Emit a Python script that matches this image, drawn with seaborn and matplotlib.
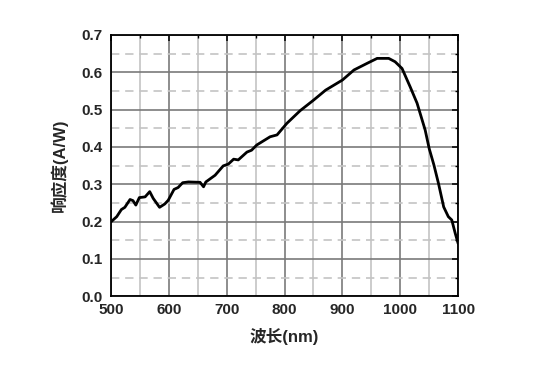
import numpy as np
import pandas as pd
import matplotlib
matplotlib.use('Agg')
import matplotlib.pyplot as plt
import seaborn as sns
from matplotlib.ticker import MultipleLocator

wavelength = [500, 510, 518, 524, 533, 538, 543, 549, 559, 567, 573, 584, 593, 599,
              609, 616, 624, 634, 654, 660, 664, 680, 694, 703, 712, 720, 735, 743,
              752, 775, 787, 804, 827, 850, 871, 900, 920, 943, 960, 980, 991, 1003,
              1017, 1029, 1043, 1050, 1058, 1066, 1075, 1083, 1089, 1095, 1100]
response = [0.199, 0.213, 0.232, 0.238, 0.259, 0.256, 0.244, 0.264, 0.266, 0.280, 0.262,
            0.238, 0.247, 0.257, 0.286, 0.291, 0.304, 0.306, 0.305, 0.293, 0.306, 0.324,
            0.349, 0.354, 0.367, 0.365, 0.386, 0.391, 0.405, 0.427, 0.432, 0.463, 0.497,
            0.525, 0.552, 0.579, 0.606, 0.624, 0.637, 0.637, 0.628, 0.610, 0.561, 0.517,
            0.445, 0.395, 0.352, 0.302, 0.239, 0.213, 0.204, 0.168, 0.141]

df = pd.DataFrame({'wl': wavelength, 'r': response})

sns.set_style('white')
plt.rcParams['font.family'] = ['Liberation Sans', 'Noto Sans CJK SC', 'DejaVu Sans']

fig = plt.figure(figsize=(5.52, 3.67), dpi=100)
ax = fig.add_axes([0.201, 0.193, 0.629, 0.712])

# grid
ax.xaxis.set_major_locator(MultipleLocator(100))
ax.xaxis.set_minor_locator(MultipleLocator(50))
ax.yaxis.set_major_locator(MultipleLocator(0.1))
ax.yaxis.set_minor_locator(MultipleLocator(0.05))
ax.grid(which='major', axis='both', color='#7a7a7a', lw=1.2, ls='-')
ax.grid(which='minor', axis='x', color='#c4c4c4', lw=1.2, ls='-')
ax.grid(which='minor', axis='y', color='#c4c4c4', lw=1.2, ls=(0, (5, 3.5)))
ax.set_axisbelow(True)

sns.lineplot(data=df, x='wl', y='r', color='black', lw=2, ax=ax)

ax.set_xlim(500, 1100)
ax.set_ylim(0, 0.7)
ax.set_xticks([500, 600, 700, 800, 900, 1000, 1100])
ax.set_yticks([0.0, 0.1, 0.2, 0.3, 0.4, 0.5, 0.6, 0.7])
ax.set_yticklabels(['0.0', '0.1', '0.2', '0.3', '0.4', '0.5', '0.6', '0.7'])

for s in ax.spines.values():
    s.set_color('black')
    s.set_linewidth(1.3)

ax.tick_params(which='both', direction='in', top=True, right=True, color='black',
               labelsize=11)
ax.tick_params(axis='x', pad=5)
ax.tick_params(axis='y', pad=6)
ax.tick_params(which='major', length=4, width=1.1)
ax.tick_params(which='minor', length=2.5, width=1.0)
for lab in ax.get_xticklabels() + ax.get_yticklabels():
    lab.set_fontweight('bold')

ax.set_xlabel('波长(nm)', fontsize=12, fontweight='bold', labelpad=8)
ax.set_ylabel('响应度(A/W)', fontsize=12, fontweight='bold', labelpad=10)

fig.savefig('out.png', dpi=100)
